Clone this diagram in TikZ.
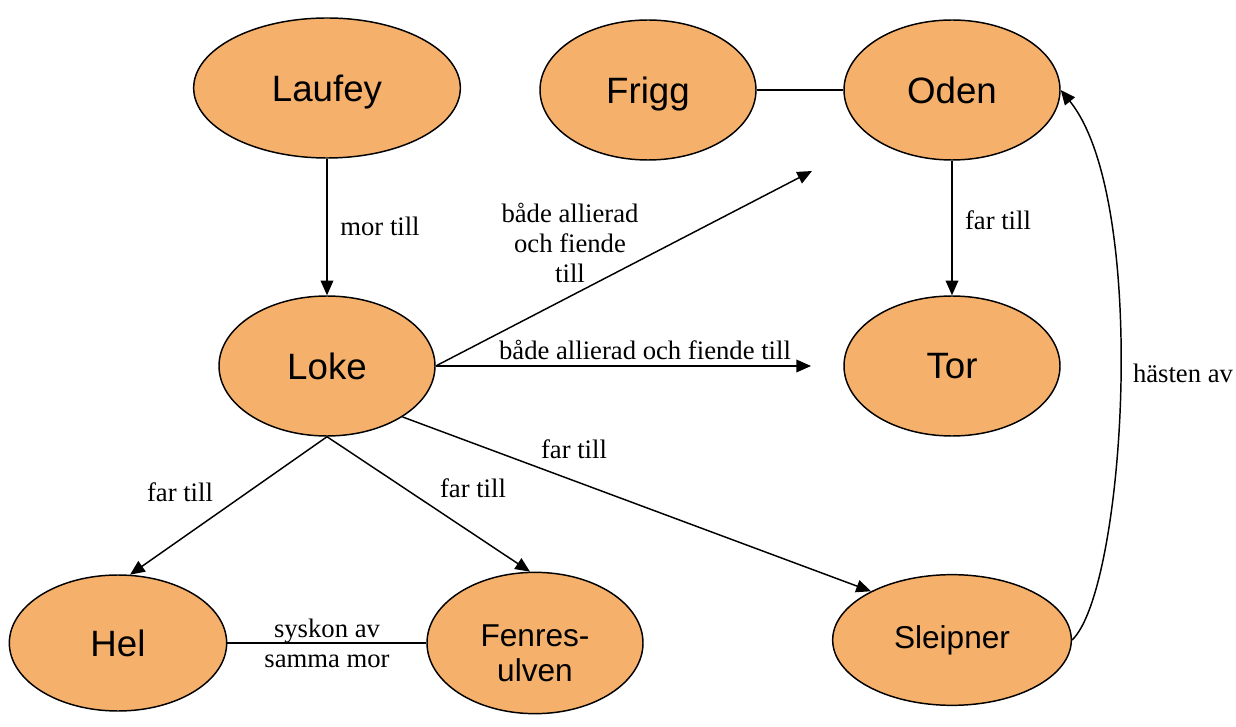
\documentclass[tikz,border=0pt]{standalone}
\usepackage{fontspec}
\setmainfont{Liberation Serif}
\setsansfont{Liberation Sans}
\usetikzlibrary{arrows.meta,shapes.geometric}
\definecolor{nodefill}{RGB}{245,176,107}
\tikzset{
  ell/.style={ellipse, draw=black, line width=1.1pt, fill=nodefill, inner sep=0pt,
    minimum width=162pt, minimum height=105pt, align=center,
    font=\sffamily\fontsize{27.5}{31}\selectfont},
  smallell/.style={ell, font=\sffamily\fontsize{23.7}{26.25}\selectfont},
  lbl/.style={align=center, inner sep=0pt, font=\fontsize{20}{22.5}\selectfont},
  conn/.style={line width=1.1pt},
  arr/.style={conn, -{Triangle[length=11pt,width=9.5pt]}}
}
\begin{document}
\begin{tikzpicture}[x=0.75pt,y=-0.75pt]
\useasboundingbox (0,0) rectangle (1236,727);
\node[ell, minimum width=200pt, text depth=0pt] (laufey) at (327,88) {Laufey};
\node[ell, text depth=0pt] (frigg) at (648,90) {Frigg};
\node[ell] (oden) at (952,90) {Oden};
\node[ell] (loke) at (327,366) {Loke};
\node[ell] (tor) at (952,366) {Tor};
\node[ell, minimum width=163pt, minimum height=102pt] (hel) at (118,643) {Hel};
\node[smallell, minimum height=106pt] (fenres) at (535,643) {};
\node[smallell, draw=none, fill=none, minimum width=0pt, minimum height=0pt] (fenrestext) at (535,653) {Fenres-\\ulven};
\node[smallell, minimum width=179pt, minimum height=98pt] (sleipner) at (952,640) {Sleipner};

\coordinate (c1) at (812,171);
\coordinate (c2) at (811,366);

\draw[arr] (laufey.south) -- (loke.north);
\draw[conn] (frigg.east) -- (oden.west);
\draw[arr] (oden.south) -- (tor.north);
\draw[arr] (loke.east) -- (c1);
\draw[arr] (loke.east) -- (c2);
\draw[arr] (loke.-34) -- (sleipner.149);
\draw[arr] (loke.south) -- (hel.80);
\draw[arr] (loke.south) -- (fenres.94);
\draw[conn] (hel.east) -- (fenres.west);
\draw[arr] (sleipner.east) .. controls (1125,590) and (1150,200) .. (oden.east);

\node[lbl] (l1) at (380,226) {mor till};
\node[lbl] (l2) at (998,220) {far till};
\node[lbl] (l3) at (570,243) {både allierad\\och fiende\\till};
\node[lbl] (l4) at (645,350) {både allierad och fiende till};
\node[lbl] (l5) at (574,449) {far till};
\node[lbl] (l6) at (180,492) {far till};
\node[lbl] (l7) at (473,488) {far till};
\node[lbl] (l8) at (327,643) {syskon av\\samma mor};
\node[lbl] (l9) at (1183,373) {hästen av};
\end{tikzpicture}
\end{document}
